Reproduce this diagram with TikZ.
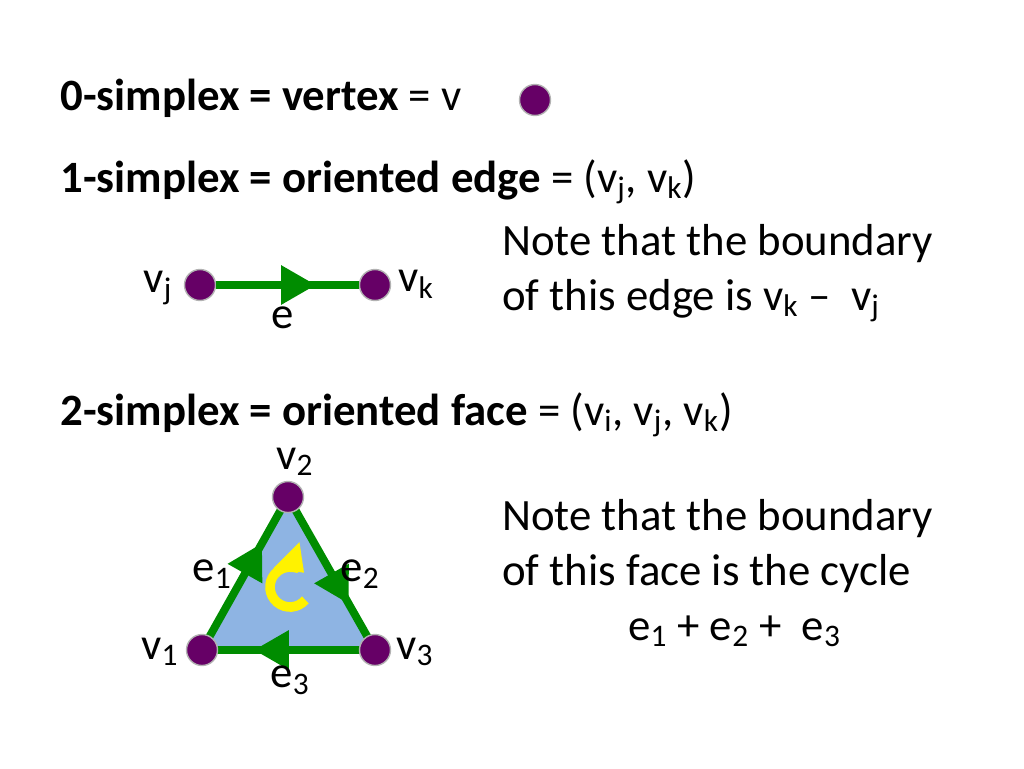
\documentclass[tikz,border=0pt]{standalone}
\usepackage{fontspec}
\setmainfont{Carlito}
\usetikzlibrary{arrows.meta,decorations.markings}
\tikzset{
  vert/.style={circle, fill=violet!80!black, draw=gray!60, line width=0.8pt, minimum size=0.62cm, inner sep=0pt},
  lbl/.style={font=\fontsize{25.5}{30}\selectfont, inner sep=0pt},
  head/.style={font=\fontsize{25.5}{30}\selectfont, anchor=base west, inner sep=0pt},
  gedge/.style={line width=4.5pt, green!55!black,
    postaction={decorate, decoration={markings, mark=at position 0.7 with {\arrow[green!55!black]{Triangle[length=0.7cm,width=0.75cm]}}}}}
}
\begin{document}
\begin{tikzpicture}[x=0.02cm, y=-0.02cm]
  \useasboundingbox (0,0) rectangle (1024,768);
  % 0-simplex
  \node[head] (h0) at (60,110) {\textbf{0-simplex = vertex} = v};
  \node[vert] (v) at (535,100) {};
  % 1-simplex
  \node[head] (h1) at (60,192) {\textbf{1-simplex = oriented edge} = (v\textsubscript{j}, v\textsubscript{k})};
  \node[vert] (vj) at (200,285) {};
  \node[vert] (vk) at (375,285) {};
  \draw[gedge] (vj) -- (vk);
  \node[lbl] (lvj) at (158,288) {v\textsubscript{j}};
  \node[lbl] (lvk) at (416,284) {v\textsubscript{k}};
  \node[lbl] (le) at (283,318) {e};
  \node[head] (n1a) at (502,255) {Note that the boundary};
  \node[head] (n1b) at (502,310) {of this edge is v\textsubscript{k} -- \ v\textsubscript{j}};
  % 2-simplex
  \node[head] (h2) at (60,425) {\textbf{2-simplex = oriented face} = (v\textsubscript{i}, v\textsubscript{j}, v\textsubscript{k})};
  \coordinate (c1) at (202,650);
  \coordinate (c2) at (288,497);
  \coordinate (c3) at (375,650);
  \fill[fill={rgb,255:red,142;green,180;blue,227}] (c1) -- (c2) -- (c3) -- cycle;
  \draw[gedge] (c1) -- (c2);
  \draw[gedge] (c2) -- (c3);
  \draw[gedge] (c3) -- (c1);
  \node[vert] (v1) at (c1) {};
  \node[vert] (v2) at (c2) {};
  \node[vert] (v3) at (c3) {};
  \draw[yellow, line width=5.5pt, -{Triangle[length=0.5cm,width=0.7cm]}]
    (290,587) ++(40:20) arc (40:315:20);
  \node[lbl] (lv2) at (295,462) {v\textsubscript{2}};
  \node[lbl] (le1) at (212,574) {e\textsubscript{1}};
  \node[lbl] (le2) at (360,574) {e\textsubscript{2}};
  \node[lbl] (lv1) at (160,652) {v\textsubscript{1}};
  \node[lbl] (lv3) at (415,652) {v\textsubscript{3}};
  \node[lbl] (le3) at (290,680) {e\textsubscript{3}};
  \node[head] (n2a) at (502,530) {Note that the boundary};
  \node[head] (n2b) at (502,585) {of this face is the cycle};
  \node[head] (n2c) at (628,640) {e\textsubscript{1} + e\textsubscript{2} + \ e\textsubscript{3}};
\end{tikzpicture}
\end{document}
